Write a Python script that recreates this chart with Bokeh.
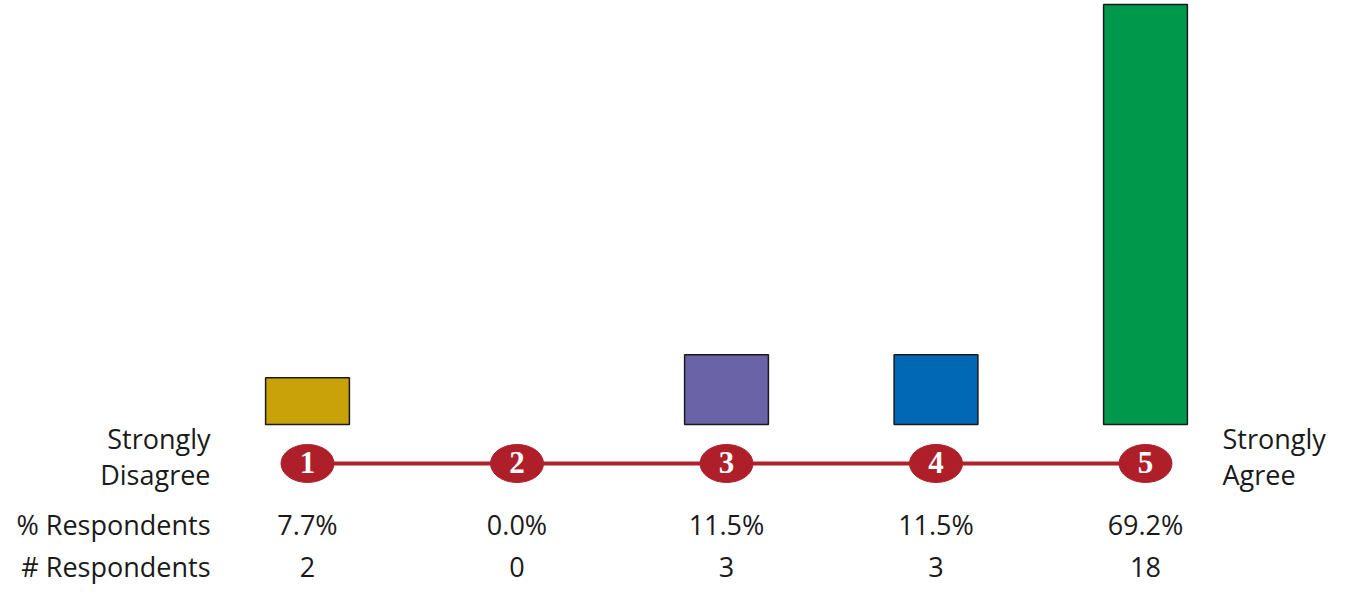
from bokeh.plotting import figure
from bokeh.core.properties import value
from bokeh.embed import file_html
from bokeh.resources import INLINE

# ---- data ----
scale_points = [1, 2, 3, 4, 5]
scale_labels = ["1", "2", "3", "4", "5"]
pct_values = [7.7, 0.0, 11.5, 11.5, 69.2]
pct_labels = ["7.7%", "0.0%", "11.5%", "11.5%", "69.2%"]
count_labels = ["2", "0", "3", "3", "18"]
bar_colors = ["#C9A209", "#C9A209", "#6A63A7", "#0068B4", "#00994C"]

W, H = 1330, 585
PX_PER_X = 209.5
x_start = 1 - 307 / PX_PER_X
x_end = x_start + W / PX_PER_X
PX_PER_Y = 420 / 69.2
y_end = 69.2 + 4 / PX_PER_Y
y_start = y_end - H / PX_PER_Y


def ypix(P):
    return (424 - P) / PX_PER_Y


def xpix(P):
    return x_start + P / PX_PER_X


p = figure(width=W, height=H, output_backend="svg", toolbar_location=None,
           x_range=(x_start, x_end), y_range=(y_start, y_end),
           min_border=0, outline_line_color=None)
p.axis.visible = False
p.grid.visible = False
p.background_fill_color = "white"
p.border_fill_color = "white"

# bars (skip zero values)
bx = [x for x, v in zip(scale_points, pct_values) if v > 0]
bt = [v for v in pct_values if v > 0]
bc = [c for c, v in zip(bar_colors, pct_values) if v > 0]
p.vbar(x=bx, top=bt, bottom=0, width=0.40, fill_color=bc,
       line_color="#1a1a1a", line_width=1.5)

# scale line and ellipses
row_y = ypix(463)
p.line(x=[scale_points[0], scale_points[-1]], y=[row_y, row_y],
       line_color="#B0222B", line_width=4)
p.ellipse(x=scale_points, y=[row_y] * 5, width=53, height=38,
          width_units="screen", height_units="screen",
          fill_color="#AE1F2A", line_color="#AE1F2A")
p.text(x=scale_points, y=[row_y + 0.2] * 5, text=scale_labels,
       text_color="white", text_font=value("Liberation Serif"),
       text_font_style="bold", text_font_size="31px",
       text_align="center", text_baseline="middle")

font = value("Open Sans")
fs = "27px"
tc = "#1a1a1a"
# value rows
p.text(x=scale_points, y=[ypix(524)] * 5, text=pct_labels, text_color=tc,
       text_font=font, text_font_size=fs, text_align="center", text_baseline="middle")
p.text(x=scale_points, y=[ypix(566)] * 5, text=count_labels, text_color=tc,
       text_font=font, text_font_size=fs, text_align="center", text_baseline="middle")

# side labels
lx = xpix(210)
p.text(x=[lx] * 4, y=[ypix(438), ypix(474), ypix(524), ypix(566)],
       text=["Strongly", "Disagree", "% Respondents", "# Respondents"],
       text_color=tc, text_font=font, text_font_size=fs,
       text_align="right", text_baseline="middle")
rx = xpix(1222)
p.text(x=[rx] * 2, y=[ypix(438), ypix(474)], text=["Strongly", "Agree"],
       text_color=tc, text_font=font, text_font_size=fs,
       text_align="left", text_baseline="middle")

open("out.html", "w").write(file_html(p, INLINE))
